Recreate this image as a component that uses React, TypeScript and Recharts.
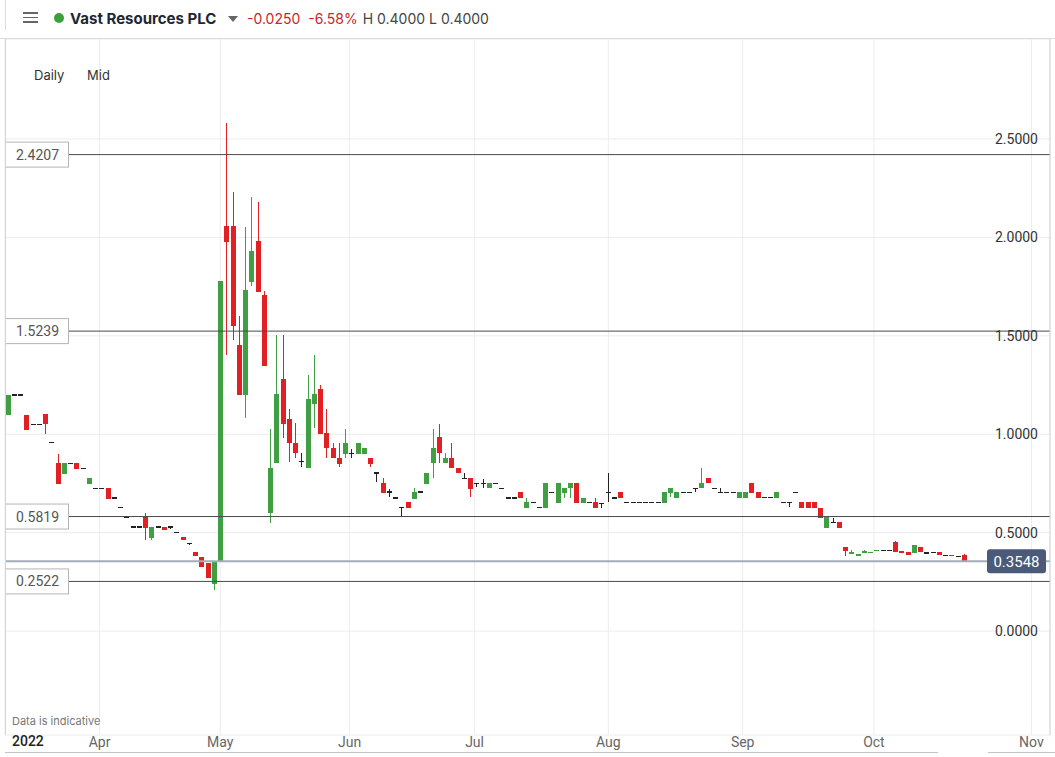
import { ComposedChart, Bar, XAxis, YAxis, CartesianGrid, ReferenceLine } from 'recharts';

// Daily candles, one per trading session (index 0 = first visible session)
const opens = [
  1.10, 1.20, 1.20, 1.10, 1.05, 1.05, 1.104, 0.957, 0.852, 0.80,
  0.852, 0.852, 0.825, 0.748, 0.725, 0.725, 0.725, 0.677, 0.628, 0.579,
  0.528, 0.528, 0.581, 0.474, 0.528, 0.528, 0.528, 0.501, 0.478, 0.446,
  0.401, 0.376, 0.346, 0.240, 0.349, 2.058, 2.058, 1.453, 1.199, 1.775,
  1.982, 1.707, 0.601, 0.852, 1.280, 1.075, 0.957, 0.861, 0.827, 1.152,
  1.228, 1.008, 0.931, 0.881, 0.901, 0.903, 0.901, 0.901, 0.881, 0.804,
  0.754, 0.706, 0.677, 0.628, 0.654, 0.672, 0.706, 0.748, 0.852, 0.984,
  0.852, 0.881, 0.827, 0.776, 0.776, 0.750, 0.750, 0.725, 0.750, 0.725,
  0.677, 0.677, 0.705, 0.627, 0.654, 0.627, 0.627, 0.703, 0.649, 0.700,
  0.725, 0.750, 0.649, 0.654, 0.654, 0.649, 0.703, 0.677, 0.705, 0.652,
  0.652, 0.652, 0.652, 0.652, 0.652, 0.649, 0.700, 0.674, 0.703, 0.703,
  0.725, 0.725, 0.776, 0.725, 0.705, 0.705, 0.705, 0.674, 0.674, 0.750,
  0.705, 0.679, 0.679, 0.674, 0.652, 0.652, 0.703, 0.654, 0.654, 0.654,
  0.627, 0.525, 0.552, 0.552, 0.428, 0.390, 0.381, 0.398, 0.395, 0.405,
  0.410, 0.410, 0.451, 0.408, 0.400, 0.398, 0.425, 0.396, 0.399, 0.401,
  0.385, 0.387, 0.379, 0.385,
];

const highs = [
  1.20, 1.20, 1.20, 1.10, 1.05, 1.05, 1.104, 0.957, 0.899, 0.852,
  0.852, 0.852, 0.825, 0.777, 0.725, 0.725, 0.725, 0.677, 0.628, 0.579,
  0.528, 0.528, 0.601, 0.528, 0.528, 0.528, 0.535, 0.501, 0.478, 0.446,
  0.401, 0.376, 0.346, 0.352, 1.778, 2.580, 2.232, 1.601, 2.054, 2.203,
  2.180, 1.728, 1.025, 1.504, 1.504, 1.128, 1.055, 0.903, 1.301, 1.402,
  1.250, 1.128, 0.954, 0.954, 1.025, 0.923, 0.957, 0.932, 0.881, 0.804,
  0.776, 0.723, 0.677, 0.628, 0.654, 0.725, 0.706, 0.804, 1.025, 1.052,
  0.903, 0.954, 0.827, 0.804, 0.776, 0.750, 0.772, 0.750, 0.750, 0.725,
  0.677, 0.677, 0.705, 0.677, 0.654, 0.627, 0.750, 0.703, 0.750, 0.725,
  0.750, 0.750, 0.677, 0.654, 0.677, 0.649, 0.801, 0.677, 0.705, 0.652,
  0.652, 0.652, 0.652, 0.652, 0.652, 0.705, 0.725, 0.705, 0.703, 0.703,
  0.725, 0.827, 0.776, 0.725, 0.725, 0.705, 0.705, 0.705, 0.705, 0.750,
  0.705, 0.679, 0.679, 0.705, 0.652, 0.652, 0.703, 0.654, 0.654, 0.654,
  0.627, 0.581, 0.576, 0.552, 0.428, 0.412, 0.391, 0.412, 0.403, 0.413,
  0.410, 0.410, 0.457, 0.408, 0.400, 0.437, 0.425, 0.396, 0.399, 0.401,
  0.385, 0.387, 0.379, 0.391,
];

const lows = [
  1.10, 1.20, 1.20, 1.02, 1.05, 1.05, 1.003, 0.957, 0.748, 0.80,
  0.852, 0.825, 0.825, 0.748, 0.725, 0.725, 0.672, 0.677, 0.628, 0.579,
  0.528, 0.528, 0.462, 0.465, 0.528, 0.515, 0.521, 0.501, 0.464, 0.438,
  0.383, 0.324, 0.271, 0.210, 0.349, 1.402, 1.479, 1.199, 1.081, 1.755,
  1.724, 1.348, 0.550, 0.852, 0.979, 0.857, 0.878, 0.835, 0.827, 1.030,
  0.999, 0.878, 0.878, 0.832, 0.878, 0.878, 0.901, 0.901, 0.832, 0.756,
  0.700, 0.679, 0.677, 0.578, 0.627, 0.672, 0.706, 0.748, 0.779, 0.855,
  0.852, 0.827, 0.801, 0.776, 0.679, 0.730, 0.728, 0.725, 0.750, 0.725,
  0.677, 0.677, 0.674, 0.627, 0.654, 0.627, 0.627, 0.703, 0.649, 0.677,
  0.677, 0.649, 0.649, 0.654, 0.627, 0.627, 0.654, 0.677, 0.674, 0.652,
  0.652, 0.652, 0.652, 0.652, 0.652, 0.649, 0.679, 0.674, 0.703, 0.703,
  0.705, 0.725, 0.750, 0.725, 0.705, 0.705, 0.705, 0.674, 0.674, 0.700,
  0.674, 0.679, 0.679, 0.674, 0.652, 0.632, 0.703, 0.627, 0.627, 0.627,
  0.576, 0.525, 0.552, 0.525, 0.383, 0.390, 0.381, 0.398, 0.395, 0.405,
  0.410, 0.410, 0.403, 0.398, 0.389, 0.398, 0.401, 0.396, 0.399, 0.385,
  0.385, 0.379, 0.379, 0.3548,
];

const closes = [
  1.20, 1.20, 1.20, 1.02, 1.05, 1.05, 1.05, 0.957, 0.748, 0.852,
  0.852, 0.825, 0.825, 0.777, 0.725, 0.725, 0.672, 0.677, 0.628, 0.579,
  0.528, 0.528, 0.525, 0.528, 0.528, 0.515, 0.528, 0.501, 0.464, 0.446,
  0.383, 0.324, 0.271, 0.352, 1.778, 1.978, 1.550, 1.199, 1.733, 1.931,
  1.724, 1.348, 0.827, 1.204, 1.050, 0.954, 0.903, 0.861, 1.177, 1.204,
  0.999, 0.928, 0.878, 0.849, 0.957, 0.903, 0.957, 0.932, 0.849, 0.804,
  0.700, 0.706, 0.677, 0.628, 0.627, 0.706, 0.706, 0.804, 0.928, 0.903,
  0.881, 0.827, 0.801, 0.776, 0.723, 0.750, 0.750, 0.750, 0.750, 0.725,
  0.677, 0.677, 0.674, 0.654, 0.654, 0.627, 0.750, 0.703, 0.750, 0.725,
  0.750, 0.649, 0.677, 0.654, 0.627, 0.649, 0.703, 0.677, 0.674, 0.652,
  0.652, 0.652, 0.652, 0.652, 0.652, 0.705, 0.725, 0.705, 0.703, 0.703,
  0.725, 0.750, 0.750, 0.725, 0.705, 0.705, 0.705, 0.705, 0.705, 0.700,
  0.674, 0.679, 0.679, 0.705, 0.652, 0.652, 0.703, 0.627, 0.627, 0.627,
  0.576, 0.581, 0.552, 0.525, 0.408, 0.400, 0.391, 0.408, 0.403, 0.413,
  0.410, 0.410, 0.403, 0.398, 0.389, 0.437, 0.401, 0.396, 0.399, 0.385,
  0.385, 0.379, 0.379, 0.3548,
];

// month boundaries, in session units
const monthTicks = [14.6, 33.9, 54.6, 74.6, 96.0, 117.5, 138.5, 163.7];
const monthLabels = ['Apr', 'May', 'Jun', 'Jul', 'Aug', 'Sep', 'Oct', 'Nov'];

const priceTicks = [0, 0.5, 1, 1.5, 2, 2.5];
const levels = [2.4207, 1.5239, 0.5819, 0.2522];
const lastPrice = 0.3548;

const X_DOMAIN: [number, number] = [-0.53, 166.67];
const Y_MIN = -0.528;
const Y_MAX = 3.008;

const UP = '#3f9f42';
const DOWN = '#e21f22';
const FLAT = '#222222';

const candles = opens.map((open, i) => ({
  idx: i,
  open,
  high: highs[i],
  low: lows[i],
  close: closes[i],
}));

function Candle(props: any) {
  const { x, y, width, height } = props;
  const d = props.payload ?? props;
  const span = d.high - Y_MIN;
  const py = (v: number) => y + (height * (d.high - v)) / span;
  const cx = x + width / 2;
  const color = d.close > d.open ? UP : d.close < d.open ? DOWN : FLAT;
  const top = py(Math.max(d.open, d.close));
  const bottom = py(Math.min(d.open, d.close));
  return (
    <g shapeRendering="crispEdges">
      {d.high > d.low && (
        <line x1={cx} x2={cx} y1={py(d.high)} y2={py(d.low)} stroke={color} strokeWidth={1} />
      )}
      {d.open === d.close ? (
        <rect x={cx - 2.5} y={top - 0.75} width={5} height={1.5} fill={FLAT} />
      ) : (
        <rect x={cx - 2.5} y={top} width={5} height={Math.max(1.5, bottom - top)} fill={color} />
      )}
    </g>
  );
}

function LevelTag(props: any) {
  const { viewBox, text } = props;
  if (!viewBox) return null;
  const y = viewBox.y;
  return (
    <g>
      <rect x={viewBox.x + 0.5} y={y - 12.5} width={63} height={25} fill="#fff" stroke="#b4b4b4" />
      <text x={viewBox.x + 11} y={y} dominantBaseline="central" fontSize={14} fill="#555" fontFamily="Roboto">
        {text}
      </text>
    </g>
  );
}

function PriceTag(props: any) {
  const { viewBox, text } = props;
  if (!viewBox) return null;
  const right = viewBox.x + viewBox.width;
  const y = viewBox.y;
  return (
    <g>
      <rect x={right - 63} y={y - 12} width={59} height={24} rx={3} fill="#4a5a78" />
      <text x={right - 33.5} y={y + 1} textAnchor="middle" dominantBaseline="central" fontSize={15} fill="#fff" fontFamily="Roboto">
        {text}
      </text>
    </g>
  );
}

function MonthTick(props: any) {
  const { x, y, payload } = props;
  const k = monthTicks.indexOf(payload.value);
  return (
    <text x={x} y={y + 7} textAnchor="middle" dominantBaseline="central" fontSize={14} fill="#666" fontFamily="Roboto">
      {monthLabels[k]}
    </text>
  );
}

function PriceTick(props: any) {
  const { y, payload } = props;
  return (
    <text x={1038} y={y} textAnchor="end" dominantBaseline="central" fontSize={14} fill="#333" fontFamily="Roboto">
      {Number(payload.value).toFixed(4)}
    </text>
  );
}

export default function App() {
  return (
    <div style={{ position: 'absolute', left: 0, top: 0, width: 1055, height: 757, background: '#fff', overflow: 'hidden', fontFamily: 'Inter, Roboto, sans-serif' }}>
      <div style={{ position: 'absolute', left: 0, top: 0 }}>
        <ComposedChart width={1055} height={757} data={candles} margin={{ top: 39, right: 5, bottom: 0, left: 5 }}>
          <CartesianGrid stroke="#ececec" />
          <XAxis
            dataKey="idx"
            type="number"
            domain={X_DOMAIN}
            ticks={monthTicks}
            allowDataOverflow
            height={22}
            axisLine={false}
            tickLine={false}
            tickSize={0}
            tickMargin={0}
            tick={<MonthTick />}
          />
          <YAxis
            orientation="right"
            mirror
            type="number"
            domain={[Y_MIN, Y_MAX]}
            ticks={priceTicks}
            interval={0}
            allowDataOverflow
            width={60}
            axisLine={{ stroke: '#d4d4d4' }}
            tickLine={false}
            tickSize={0}
            tickMargin={0}
            tick={<PriceTick />}
          />
          {levels.map((v) => (
            <ReferenceLine key={v} y={v} stroke="#4a4a4a" strokeWidth={1} label={<LevelTag text={v.toFixed(4)} />} />
          ))}
          <ReferenceLine y={lastPrice} stroke="#a3acb8" strokeWidth={2} label={<PriceTag text={lastPrice.toFixed(4)} />} />
          <Bar dataKey={(d: any) => [Y_MIN, d.high]} barSize={6} shape={<Candle />} isAnimationActive={false} />
        </ComposedChart>
      </div>

      {/* header */}
      <div style={{ position: 'absolute', left: 0, top: 0, width: 1055, height: 38, borderBottom: '1px solid #dcdcdc', background: '#fff' }}>
        <div style={{ position: 'absolute', left: 23, top: 12, width: 15 }}>
          {[0, 1, 2].map((k) => (
            <div key={k} style={{ height: 1.5, background: '#666', marginBottom: 3 }} />
          ))}
        </div>
        <div style={{ position: 'absolute', left: 54, top: 13, width: 10, height: 10, borderRadius: 5, background: '#3c9f3c' }} />
        <div style={{ position: 'absolute', left: 70, top: 9, fontSize: 15, fontWeight: 700, color: '#1d2733', whiteSpace: 'nowrap' }}>
          Vast Resources PLC
        </div>
        <div style={{ position: 'absolute', left: 228, top: 16, width: 0, height: 0, borderLeft: '5px solid transparent', borderRight: '5px solid transparent', borderTop: '6px solid #666' }} />
        <div style={{ position: 'absolute', left: 247, top: 10, fontSize: 14, whiteSpace: 'nowrap' }}>
          <span style={{ color: '#c62828' }}>-0.0250</span>
          <span style={{ color: '#c62828', marginLeft: 8 }}>-6.58%</span>
          <span style={{ color: '#444', marginLeft: 5 }}>H 0.4000 L 0.4000</span>
        </div>
      </div>
      <div style={{ position: 'absolute', left: 5, top: 0, width: 1, height: 30, background: '#dcdcdc' }} />
      <div style={{ position: 'absolute', left: 5, top: 39, width: 1, height: 696, background: '#d4d4d4' }} />

      <div style={{ position: 'absolute', left: 34, top: 67, fontSize: 13, color: '#333' }}>Daily</div>
      <div style={{ position: 'absolute', left: 87, top: 67, fontSize: 13, color: '#333' }}>Mid</div>

      <div style={{ position: 'absolute', left: 12, top: 714, fontSize: 11, color: '#777' }}>Data is indicative</div>
      <div style={{ position: 'absolute', left: 12, top: 733, fontSize: 14, fontWeight: 500, color: '#222', fontFamily: 'Roboto' }}>2022</div>
      <div style={{ position: 'absolute', left: 5, top: 752, width: 933, height: 1, background: '#c4c4c4' }} />
      <div style={{ position: 'absolute', left: 988, top: 752, width: 67, height: 1, background: '#c4c4c4' }} />
    </div>
  );
}
